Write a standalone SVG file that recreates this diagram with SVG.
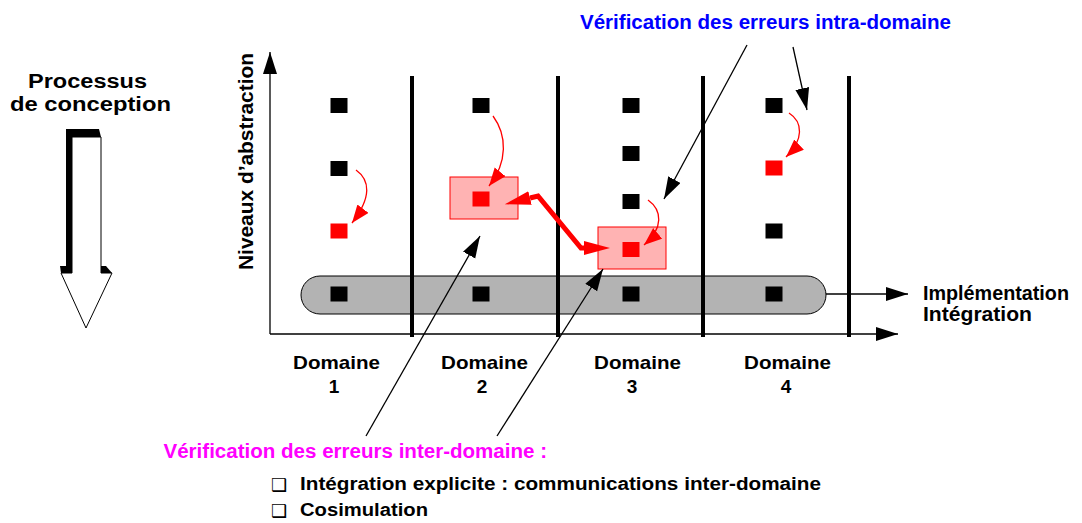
<svg xmlns="http://www.w3.org/2000/svg" width="1082" height="523" viewBox="0 0 1082 523">
<style>
  text { font-family: "Liberation Sans", Arial, sans-serif; font-weight: bold; fill: #000; }
  .thin { stroke: #000; stroke-width: 1.3; fill: none; }
  .bar { stroke: #000; stroke-width: 4; fill: none; }
  .sq { fill: #000; }
  .rsq { fill: #ff0000; }
  .pink { fill: #ffb3b3; stroke: #ff0000; stroke-width: 1; }
  .rcurve { stroke: #ff0000; stroke-width: 1.3; fill: none; }
  .rthick { stroke: #ff0000; stroke-width: 5; fill: none; stroke-linejoin: miter; }
  .dom { font-size: 19px; }
  .bul { font-family: "DejaVu Sans", sans-serif; font-weight: normal; font-size: 18px; }
</style>
<defs>
  <marker id="ah" markerUnits="userSpaceOnUse" markerWidth="24" markerHeight="16" refX="22" refY="7" orient="auto">
    <path d="M0,0 L22,7 L0,14 z" fill="#000"/>
  </marker>
  <marker id="rh" markerUnits="userSpaceOnUse" markerWidth="20" markerHeight="16" refX="18" refY="7" orient="auto">
    <path d="M0,0 L18,7 L0,14 z" fill="#ff0000"/>
  </marker>
  <marker id="rth" markerUnits="userSpaceOnUse" markerWidth="28" markerHeight="16" refX="0" refY="7" orient="auto-start-reverse">
    <path d="M0,0 L26,7 L0,14 z" fill="#ff0000"/>
  </marker>
</defs>

<g id="process-title">
  <text x="28" y="88" font-size="20" textLength="119" lengthAdjust="spacingAndGlyphs">Processus</text>
  <text x="10" y="111" font-size="20" textLength="161" lengthAdjust="spacingAndGlyphs">de conception</text>
</g>
<g id="process-arrow">
  <polygon points="66,129 99,129 101,137 72,137" fill="#000"/>
  <rect x="66" y="129" width="6.5" height="138" fill="#000"/>
  <polygon points="60,266 72,266 72,273 61,273" fill="#000"/>
  <polygon points="101,266 106,266 112,273 101,273" fill="#000"/>
  <polygon points="72,137 101,137 101,273 112,273 86,328 61,273 72,273" fill="#fff" stroke="#000" stroke-width="1"/>
</g>

<g id="axes">
  <line class="thin" x1="270" y1="334" x2="270" y2="52" marker-end="url(#ah)"/>
  <line class="thin" x1="270" y1="334" x2="898" y2="334" marker-end="url(#ah)"/>
  <text transform="translate(253,270) rotate(-90)" x="0" y="0" font-size="20" textLength="217" lengthAdjust="spacingAndGlyphs">Niveaux d’abstraction</text>
</g>

<g id="pill">
  <rect x="301" y="276" width="525" height="38" rx="19" ry="19" fill="#b3b3b3" stroke="#000" stroke-width="1"/>
</g>

<g id="bars">
  <line class="bar" x1="412" y1="76" x2="412" y2="337"/>
  <line class="bar" x1="558" y1="76" x2="558" y2="337"/>
  <line class="bar" x1="703" y1="76" x2="703" y2="337"/>
  <line class="bar" x1="849" y1="76" x2="849" y2="337"/>
</g>

<g id="pink-box-2"><rect class="pink" x="450" y="177" width="68" height="42"/></g>
<g id="pink-box-3"><rect class="pink" x="598" y="227" width="68" height="42"/></g>

<g id="domain1-nodes">
  <rect class="sq" x="330.5" y="98" width="17" height="15"/>
  <rect class="sq" x="330.5" y="161" width="17" height="15"/>
  <rect class="rsq" x="330.5" y="223.5" width="17" height="15"/>
  <rect class="sq" x="330.5" y="286.5" width="17" height="15"/>
</g>
<g id="domain2-nodes">
  <rect class="sq" x="472.5" y="98" width="17" height="15"/>
  <rect class="rsq" x="472.5" y="191.5" width="17" height="15"/>
  <rect class="sq" x="472.5" y="286.5" width="17" height="15"/>
</g>
<g id="domain3-nodes">
  <rect class="sq" x="622.5" y="98" width="17" height="15"/>
  <rect class="sq" x="622.5" y="146" width="17" height="15"/>
  <rect class="sq" x="622.5" y="194" width="17" height="15"/>
  <rect class="rsq" x="622.5" y="242" width="17" height="15"/>
  <rect class="sq" x="622.5" y="286.5" width="17" height="15"/>
</g>
<g id="domain4-nodes">
  <rect class="sq" x="765.5" y="98" width="17" height="15"/>
  <rect class="rsq" x="765.5" y="160.5" width="17" height="15"/>
  <rect class="sq" x="765.5" y="223.5" width="17" height="15"/>
  <rect class="sq" x="765.5" y="286.5" width="17" height="15"/>
</g>

<g id="connectors">
  <path class="rcurve" d="M356,170 C370,180 372,197 352,223" marker-end="url(#rh)"/>
  <path class="rcurve" d="M493,116 C507,135 508,162 489,186" marker-end="url(#rh)"/>
  <path class="rcurve" d="M648,200 C662,210 664,228 644,245" marker-end="url(#rh)"/>
  <path class="rcurve" d="M789,113 C803,122 804,140 786,157" marker-end="url(#rh)"/>
  <path class="rthick" d="M530,198 L538,196 L581,248 L584,248" marker-start="url(#rth)" marker-end="url(#rth)"/>
  <line class="thin" x1="747" y1="45" x2="664" y2="199" marker-end="url(#ah)"/>
  <line class="thin" x1="793" y1="47" x2="807" y2="110" marker-end="url(#ah)"/>
  <line class="thin" x1="366" y1="436" x2="480" y2="236" marker-end="url(#ah)"/>
  <line class="thin" x1="497" y1="436" x2="603" y2="269" marker-end="url(#ah)"/>
  <line class="thin" x1="826" y1="294" x2="908" y2="294" marker-end="url(#ah)"/>
</g>

<g id="labels">
  <text x="580" y="29" font-size="20" textLength="371" lengthAdjust="spacingAndGlyphs" style="fill:#0000ff">Vérification des erreurs intra-domaine</text>
  <text x="923" y="300" font-size="20" textLength="146" lengthAdjust="spacingAndGlyphs">Implémentation</text>
  <text x="923" y="321" font-size="20" textLength="109" lengthAdjust="spacingAndGlyphs">Intégration</text>
  <text class="dom" x="293" y="369" textLength="87" lengthAdjust="spacingAndGlyphs">Domaine</text>
  <text class="dom" x="334" y="393" text-anchor="middle">1</text>
  <text class="dom" x="441" y="369" textLength="87" lengthAdjust="spacingAndGlyphs">Domaine</text>
  <text class="dom" x="482" y="393" text-anchor="middle">2</text>
  <text class="dom" x="594" y="369" textLength="87" lengthAdjust="spacingAndGlyphs">Domaine</text>
  <text class="dom" x="632" y="393" text-anchor="middle">3</text>
  <text class="dom" x="744" y="369" textLength="87" lengthAdjust="spacingAndGlyphs">Domaine</text>
  <text class="dom" x="786" y="393" text-anchor="middle">4</text>
  <text x="163.5" y="457.7" font-size="20" textLength="383.5" lengthAdjust="spacingAndGlyphs" style="fill:#ff00ff">Vérification des erreurs inter-domaine :</text>
  <text class="bul" x="271" y="491">❑</text>
  <text x="300" y="490" font-size="18" textLength="521" lengthAdjust="spacingAndGlyphs">Intégration explicite : communications inter-domaine</text>
  <text class="bul" x="271" y="517">❑</text>
  <text x="300" y="516" font-size="18" textLength="128" lengthAdjust="spacingAndGlyphs">Cosimulation</text>
</g>
</svg>
